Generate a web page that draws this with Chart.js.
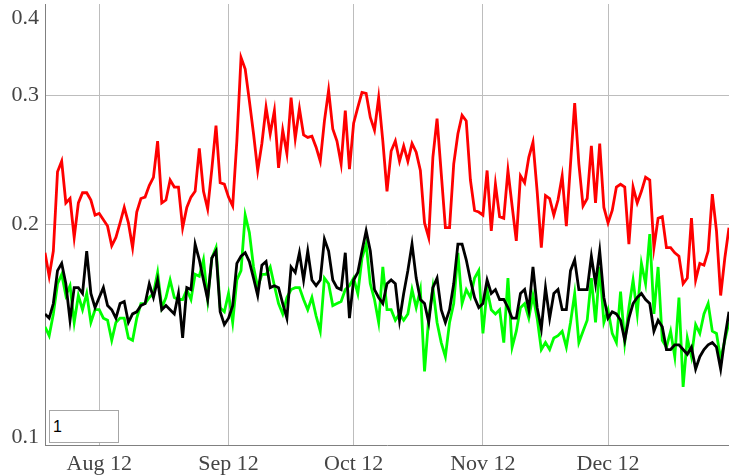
<!DOCTYPE html>
<html>
<head>
<meta charset="utf-8">
<script src="https://cdn.jsdelivr.net/npm/chart.js@4"></script>
<style>
  html, body { margin: 0; padding: 0; background: #fff; }
  #wrap { position: relative; width: 729px; height: 476px; }
  #roller {
    position: absolute; left: 49px; top: 410px; width: 70px; height: 33px;
    box-sizing: border-box; border: 1px solid #a6a6a6; background: #fff;
    font: 16px "Liberation Sans", Arial, sans-serif; color: #000;
    padding: 2px 3px; margin: 0; outline: none;
  }
</style>
</head>
<body>
<div id="wrap">
  <canvas id="myChart"></canvas>
  <input id="roller" type="text" value="1" size="3">
</div>
<script>
// Daily values, one per day starting Jul 30
var red = [
  0.183, 0.170, 0.184, 0.236, 0.244, 0.214, 0.217, 0.192, 0.214, 0.221,
  0.221, 0.216, 0.206, 0.207, 0.203, 0.199, 0.187, 0.192, 0.201, 0.211,
  0.201, 0.186, 0.208, 0.217, 0.218, 0.226, 0.232, 0.260, 0.214, 0.216,
  0.230, 0.225, 0.225, 0.198, 0.211, 0.218, 0.222, 0.254, 0.222, 0.210,
  0.238, 0.273, 0.228, 0.227, 0.218, 0.212, 0.260, 0.338, 0.326, 0.295,
  0.266, 0.237, 0.258, 0.289, 0.266, 0.286, 0.239, 0.269, 0.250, 0.298,
  0.262, 0.288, 0.265, 0.263, 0.264, 0.255, 0.244, 0.277, 0.305, 0.270,
  0.260, 0.242, 0.286, 0.238, 0.275, 0.289, 0.303, 0.302, 0.280, 0.269,
  0.298, 0.260, 0.222, 0.252, 0.260, 0.244, 0.256, 0.244, 0.258, 0.251,
  0.237, 0.201, 0.192, 0.247, 0.279, 0.235, 0.198, 0.198, 0.242, 0.266,
  0.282, 0.277, 0.230, 0.209, 0.208, 0.206, 0.237, 0.196, 0.227, 0.205,
  0.204, 0.237, 0.212, 0.190, 0.233, 0.228, 0.247, 0.259, 0.222, 0.186,
  0.219, 0.217, 0.206, 0.216, 0.233, 0.199, 0.242, 0.293, 0.242, 0.212,
  0.217, 0.256, 0.214, 0.258, 0.211, 0.201, 0.209, 0.225, 0.227, 0.225,
  0.188, 0.225, 0.214, 0.222, 0.232, 0.230, 0.186, 0.204, 0.205, 0.186,
  0.186, 0.183, 0.181, 0.166, 0.169, 0.204, 0.168, 0.177, 0.176, 0.184,
  0.220, 0.196, 0.160, 0.180, 0.198
];

var green = [
  0.145, 0.141, 0.151, 0.166, 0.171, 0.160, 0.165, 0.147, 0.160, 0.153,
  0.161, 0.147, 0.153, 0.153, 0.149, 0.148, 0.139, 0.147, 0.149, 0.149,
  0.140, 0.139, 0.149, 0.156, 0.156, 0.159, 0.161, 0.172, 0.154, 0.159,
  0.168, 0.159, 0.158, 0.158, 0.163, 0.158, 0.171, 0.170, 0.179, 0.158,
  0.180, 0.186, 0.154, 0.152, 0.161, 0.147, 0.168, 0.173, 0.206, 0.195,
  0.175, 0.164, 0.171, 0.171, 0.175, 0.165, 0.156, 0.151, 0.159, 0.163,
  0.164, 0.164, 0.158, 0.153, 0.159, 0.150, 0.143, 0.169, 0.166, 0.155,
  0.156, 0.157, 0.163, 0.165, 0.169, 0.161, 0.180, 0.188, 0.166, 0.158,
  0.147, 0.175, 0.153, 0.153, 0.148, 0.151, 0.148, 0.151, 0.163, 0.154,
  0.163, 0.126, 0.149, 0.164, 0.147, 0.138, 0.132, 0.147, 0.156, 0.183,
  0.156, 0.163, 0.159, 0.169, 0.173, 0.142, 0.163, 0.153, 0.151, 0.153,
  0.138, 0.169, 0.136, 0.143, 0.154, 0.156, 0.149, 0.160, 0.149, 0.135,
  0.138, 0.135, 0.140, 0.141, 0.143, 0.136, 0.147, 0.161, 0.138, 0.143,
  0.148, 0.169, 0.147, 0.175, 0.147, 0.153, 0.142, 0.138, 0.162, 0.138,
  0.154, 0.168, 0.151, 0.177, 0.166, 0.194, 0.151, 0.175, 0.139, 0.136,
  0.143, 0.132, 0.159, 0.120, 0.140, 0.132, 0.146, 0.142, 0.151, 0.156,
  0.143, 0.142, 0.131, 0.139, 0.147
];

var black = [
  0.151, 0.149, 0.156, 0.173, 0.177, 0.166, 0.148, 0.164, 0.164, 0.161,
  0.184, 0.161, 0.154, 0.159, 0.164, 0.155, 0.153, 0.149, 0.156, 0.157,
  0.147, 0.151, 0.152, 0.155, 0.156, 0.166, 0.159, 0.168, 0.153, 0.155,
  0.153, 0.151, 0.161, 0.140, 0.164, 0.163, 0.188, 0.179, 0.168, 0.158,
  0.180, 0.184, 0.152, 0.146, 0.149, 0.155, 0.177, 0.181, 0.183, 0.178,
  0.169, 0.160, 0.176, 0.178, 0.164, 0.165, 0.164, 0.156, 0.149, 0.175,
  0.172, 0.183, 0.168, 0.184, 0.168, 0.165, 0.168, 0.191, 0.184, 0.168,
  0.164, 0.163, 0.183, 0.149, 0.168, 0.172, 0.184, 0.196, 0.184, 0.163,
  0.159, 0.156, 0.166, 0.168, 0.166, 0.148, 0.161, 0.173, 0.188, 0.169,
  0.158, 0.156, 0.147, 0.164, 0.169, 0.153, 0.147, 0.153, 0.166, 0.188,
  0.188, 0.179, 0.168, 0.159, 0.154, 0.156, 0.168, 0.161, 0.163, 0.158,
  0.158, 0.154, 0.149, 0.149, 0.161, 0.163, 0.153, 0.175, 0.154, 0.144,
  0.164, 0.149, 0.161, 0.163, 0.153, 0.153, 0.173, 0.179, 0.163, 0.163,
  0.163, 0.181, 0.166, 0.184, 0.159, 0.149, 0.152, 0.151, 0.148, 0.139,
  0.149, 0.156, 0.159, 0.161, 0.158, 0.156, 0.143, 0.148, 0.145, 0.135,
  0.135, 0.137, 0.137, 0.135, 0.133, 0.136, 0.127, 0.132, 0.135, 0.137,
  0.138, 0.136, 0.127, 0.140, 0.152
];

// Axis ticks: day offsets of the month marks, and the log-axis values
var xTickDays = [13, 44, 74, 105, 135];
var xTickLabels = ['Aug 12', 'Sep 12', 'Oct 12', 'Nov 12', 'Dec 12'];
var yTickValues = [0.1, 0.2, 0.3, 0.4];

var labelFont = '"Liberation Serif", "Times New Roman", serif';

function toPoints(values) {
  return values.map(function (v, i) { return { x: i, y: v }; });
}

// Draw the y labels ourselves so the end ones stay inside the plot height
var yLabels = {
  id: 'yLabels',
  afterDraw: function (chart) {
    var scale = chart.scales.y;
    var area = chart.chartArea;
    var c = chart.ctx;
    c.save();
    c.font = '22px ' + labelFont;
    c.fillStyle = '#444';
    c.textAlign = 'right';
    c.textBaseline = 'middle';
    yTickValues.forEach(function (v) {
      var y = scale.getPixelForValue(v);
      y = Math.min(Math.max(y, area.top + 14), area.bottom - 8);
      c.fillText(v.toFixed(1), area.left - 6, y);
    });
    c.restore();
  }
};

var ctx = document.getElementById('myChart').getContext('2d');

var data = {
  datasets: [
    { data: toPoints(black), borderColor: '#000000' },
    { data: toPoints(green), borderColor: '#00ff00' },
    { data: toPoints(red), borderColor: '#ff0000' }
  ]
};

var options = {
  responsive: true,
  maintainAspectRatio: false,
  animation: false,
  devicePixelRatio: 1,
  layout: { padding: { top: 4, right: 0, bottom: 0, left: 0 } },
  plugins: { legend: { display: false }, tooltip: { enabled: false } },
  elements: {
    point: { radius: 0 },
    line: { tension: 0, borderWidth: 2.8 }
  },
  scales: {
    x: {
      type: 'linear',
      min: 0,
      max: black.length - 1,
      afterFit: function (s) { s.height = 31; },
      afterBuildTicks: function (s) {
        s.ticks = xTickDays.map(function (d) { return { value: d }; });
      },
      ticks: {
        autoSkip: false,
        maxRotation: 0,
        padding: 6,
        color: '#444',
        font: { family: labelFont, size: 22 },
        callback: function (v, i) { return xTickLabels[i]; }
      },
      grid: { color: '#bdbdbd', drawTicks: false },
      border: { color: '#808080', width: 1 }
    },
    y: {
      type: 'logarithmic',
      min: 0.1,
      max: 0.4,
      afterFit: function (s) { s.width = 45; },
      afterBuildTicks: function (s) {
        s.ticks = yTickValues.map(function (v) { return { value: v }; });
      },
      ticks: { display: false },
      grid: {
        drawTicks: false,
        color: function (c) {
          var v = c.tick && c.tick.value;
          return (v === 0.2 || v === 0.3) ? '#bdbdbd' : 'rgba(0,0,0,0)';
        }
      },
      border: { color: '#808080', width: 1 }
    }
  }
};

var myChart = new Chart(ctx, {
  type: 'line',
  data: data,
  options: options,
  plugins: [yLabels]
});
</script>
</body>
</html>
